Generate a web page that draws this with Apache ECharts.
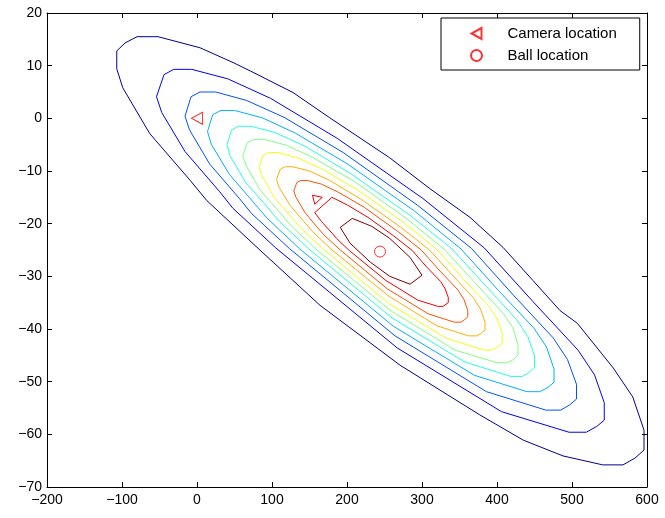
<!DOCTYPE html>
<html>
<head>
<meta charset="utf-8">
<script src="https://cdn.jsdelivr.net/npm/echarts@6/dist/echarts.min.js"></script>
<style>
html, body { margin: 0; padding: 0; background: #fff; }
#chart { width: 665px; height: 518px; }
</style>
</head>
<body>
<div id="chart"></div>
<script>
// contour lines, outermost (navy) to innermost (dark red)
var level1 = [[-107,9.4],[-107,12.8],[-96,14.3],[-80,15.5],[-52,15.5],[4,13.4],[48,10.6],[71,9.0],[128,4.9],[177,0.1],[257,-7.5],[311,-13.4],[364,-18.8],[408,-24.5],[448,-30.8],[484,-36.5],[507,-38.9],[555,-47.4],[581,-52.9],[596,-59.2],[596,-63.0],[584,-64.5],[568,-65.8],[541,-65.8],[488,-64.1],[435,-61.1],[377,-56.3],[271,-46.9],[164,-35.5],[80,-24.5],[13,-15.6],[-9,-11.8],[-63,-2.9],[-99,5.8],[-107,9.4]]
var level2 = [[-54,4.1],[-44,8.3],[-31,9.3],[-7,9.3],[41,7.5],[98,3.8],[187,-3.8],[301,-15.2],[383,-24.6],[448,-34.8],[508,-44.0],[530,-48.7],[543,-54.0],[543,-57.3],[533,-58.5],[519,-59.6],[496,-59.6],[406,-55.7],[267,-43.6],[105,-24.6],[48,-17.1],[30,-13.9],[-16,-6.3],[-47,1.1],[-54,4.1]]
var level3 = [[-16,0.4],[-8,4.1],[4,5.0],[25,5.0],[66,3.4],[116,0.2],[195,-6.5],[294,-16.5],[366,-24.7],[422,-33.6],[475,-41.7],[494,-45.8],[506,-50.5],[506,-53.3],[497,-54.4],[485,-55.4],[465,-55.4],[386,-51.9],[264,-41.3],[123,-24.7],[73,-18.1],[57,-15.3],[17,-8.7],[-10,-2.2],[-16,0.4]]
var level4 = [[14,-2.5],[21,0.7],[32,1.5],[50,1.5],[87,0.1],[131,-2.8],[200,-8.6],[289,-17.5],[352,-24.8],[402,-32.7],[449,-39.8],[466,-43.4],[476,-47.6],[476,-50.1],[468,-51.1],[457,-51.9],[440,-51.9],[370,-48.8],[262,-39.5],[137,-24.8],[93,-18.9],[78,-16.4],[43,-10.6],[19,-4.9],[14,-2.5]]
var level5 = [[40,-5.0],[46,-2.2],[55,-1.5],[72,-1.5],[104,-2.7],[144,-5.3],[205,-10.5],[284,-18.4],[340,-24.8],[385,-31.8],[426,-38.2],[441,-41.4],[450,-45.1],[450,-47.3],[443,-48.2],[434,-49.0],[418,-49.0],[356,-46.2],[260,-37.9],[149,-24.8],[110,-19.6],[97,-17.4],[65,-12.2],[44,-7.1],[40,-5.0]]
var level6 = [[61,-7.2],[67,-4.6],[76,-4.0],[90,-4.0],[119,-5.1],[154,-7.4],[210,-12.0],[280,-19.1],[330,-24.9],[370,-31.1],[407,-36.8],[421,-39.7],[428,-43.0],[428,-45.0],[422,-45.8],[414,-46.4],[400,-46.4],[344,-44.0],[259,-36.6],[159,-24.9],[124,-20.2],[113,-18.3],[84,-13.6],[66,-9.1],[61,-7.2]]
var level7 = [[83,-9.3],[88,-7.0],[95,-6.5],[108,-6.5],[134,-7.5],[165,-9.5],[214,-13.6],[276,-19.8],[320,-24.9],[355,-30.5],[388,-35.5],[400,-38.0],[407,-40.9],[407,-42.7],[401,-43.4],[394,-44.0],[382,-44.0],[333,-41.8],[257,-35.3],[169,-24.9],[138,-20.8],[128,-19.1],[103,-15.0],[87,-11.0],[83,-9.3]]
var level8 = [[106,-11.6],[111,-9.7],[117,-9.2],[128,-9.2],[150,-10.0],[177,-11.8],[218,-15.3],[271,-20.6],[310,-25.0],[340,-29.7],[368,-34.0],[378,-36.2],[384,-38.7],[384,-40.2],[379,-40.8],[373,-41.3],[362,-41.3],[320,-39.4],[256,-33.8],[180,-25.0],[154,-21.5],[145,-20.0],[124,-16.5],[109,-13.0],[106,-11.6]]
var level9 = [[129,-13.8],[133,-12.2],[138,-11.8],[147,-11.8],[166,-12.5],[188,-14.0],[223,-16.9],[267,-21.4],[299,-25.0],[324,-29.0],[348,-32.6],[356,-34.4],[361,-36.5],[361,-37.7],[357,-38.2],[352,-38.7],[343,-38.7],[308,-37.1],[254,-32.4],[191,-25.0],[169,-22.1],[161,-20.8],[144,-17.9],[132,-15.0],[129,-13.8]]
var level10 = [[157,-17.9],[180,-15.0],[201,-16.5],[228,-18.8],[262,-22.3],[287,-25.1],[306,-28.2],[325,-31.0],[331,-32.4],[335,-34.0],[335,-35.0],[332,-35.3],[328,-35.7],[321,-35.7],[294,-34.5],[252,-30.8],[203,-25.1],[186,-22.8],[180,-21.8],[166,-19.6],[157,-17.9]]
var level10b = [[154,-14.6],[167,-15.0],[157,-16.3],[154,-14.6]]
var level11 = [[191,-20.7],[207,-19.0],[233,-20.5],[257,-22.8],[284,-26.4],[300,-29.8],[284,-31.5],[257,-30.0],[231,-27.3],[204,-23.7],[191,-20.7]]

var contours = [level1, level2, level3, level4, level5, level6, level7, level8, level9, level10, level10b, level11]
var colors = ['#00008f', '#0000ef', '#0050ff', '#00afff', '#20ffdf', '#80ff80', '#efff10', '#ffaf00', '#ff5000', '#ef0000', '#ef0000', '#800000']

var camera = [[0, 0]]
var ball = [[244, -25.3]]

var xRange = [-200, 600, 100]
var yRange = [-70, 20, 10]

var font = 'Liberation Sans, Arial, Helvetica, sans-serif'
var minus = function (v) { return String(v).replace('-', '\u2212') }

var myChart = echarts.init(document.getElementById('chart'))

var series = contours.map(function (pts, i) {
    return {
        type: 'line',
        data: pts,
        showSymbol: false,
        silent: true,
        lineStyle: { color: colors[i], width: 1 },
        z: 2
    }
})
series.push({
    name: 'Camera location',
    type: 'scatter',
    data: camera,
    symbol: 'path://M10,0 L0,5.5 L10,11 Z',
    symbolSize: [11, 12],
    itemStyle: { color: 'rgba(0,0,0,0)', borderColor: '#ff0000', borderWidth: 1 },
    z: 3
})
series.push({
    name: 'Ball location',
    type: 'scatter',
    data: ball,
    symbol: 'circle',
    symbolSize: 11,
    itemStyle: { color: 'rgba(0,0,0,0)', borderColor: '#ff0000', borderWidth: 1 },
    z: 3
})

var axisCommon = {
    type: 'value',
    axisLine: { show: true, onZero: false, lineStyle: { color: '#000', width: 1 } },
    axisTick: { show: true, inside: true, length: 5, lineStyle: { color: '#000' } },
    splitLine: { show: false }
}

var option = {
    animation: false,
    backgroundColor: '#fff',
    grid: { left: 47, right: 18, top: 13, bottom: 31 },
    legend: {
        orient: 'vertical',
        left: 441,
        top: 18,
        data: ['Camera location', 'Ball location'],
        itemWidth: 52,
        itemHeight: 11,
        itemGap: 7,
        padding: [8, 23, 7, 29],
        borderColor: '#000',
        borderWidth: 1,
        backgroundColor: '#fff',
        borderRadius: 0,
        textStyle: { color: '#000', fontSize: 15, fontFamily: font }
    },
    xAxis: [
        Object.assign({}, axisCommon, {
            min: xRange[0], max: xRange[1], interval: xRange[2], position: 'bottom',
            axisLabel: { color: '#000', fontSize: 14, fontFamily: font, margin: 6, formatter: minus }
        }),
        Object.assign({}, axisCommon, {
            min: xRange[0], max: xRange[1], interval: xRange[2], position: 'top',
            axisLabel: { show: false }
        })
    ],
    yAxis: [
        Object.assign({}, axisCommon, {
            min: yRange[0], max: yRange[1], interval: yRange[2], position: 'left',
            axisLabel: { color: '#000', fontSize: 14, fontFamily: font, margin: 5, formatter: minus }
        }),
        Object.assign({}, axisCommon, {
            min: yRange[0], max: yRange[1], interval: yRange[2], position: 'right',
            axisLabel: { show: false }
        })
    ],
    series: series
}

myChart.setOption(option)
</script>
</body>
</html>
